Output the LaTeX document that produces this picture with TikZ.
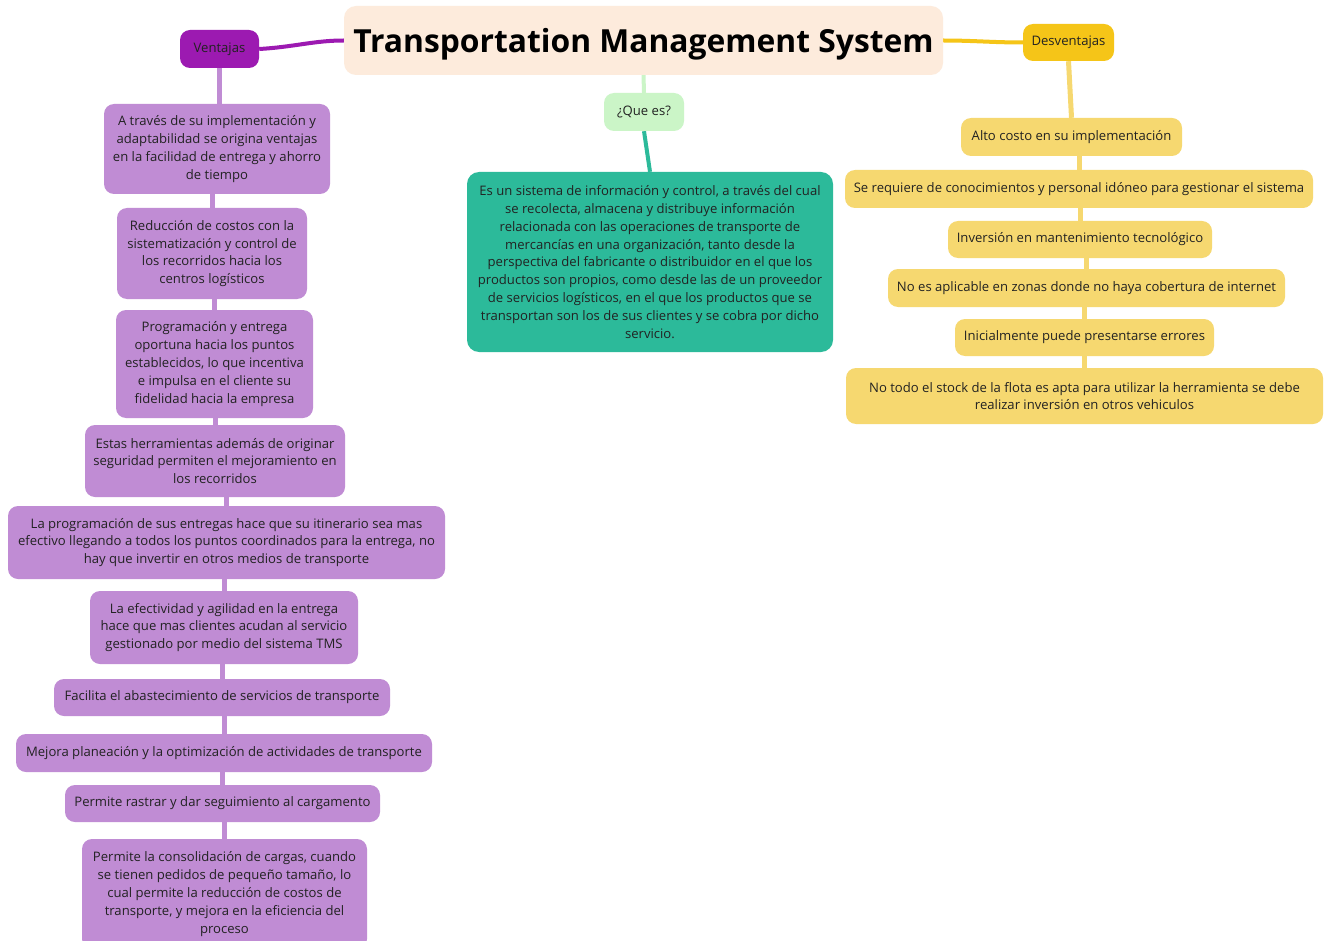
\documentclass[tikz,border=0pt]{standalone}
\usepackage{fontspec}
\setmainfont{Open Sans}
\usetikzlibrary{backgrounds}
\definecolor{titlefill}{HTML}{FDEBDC}
\definecolor{venfill}{HTML}{9C1AB1}
\definecolor{proitem}{HTML}{C08CD4}
\definecolor{desfill}{HTML}{F5C518}
\definecolor{conitem}{HTML}{F6D870}
\definecolor{qfill}{HTML}{CBF5C7}
\definecolor{tealfill}{HTML}{2CBA9A}
\definecolor{ink}{HTML}{222222}
\tikzset{
  box/.style={rounded corners=10pt, inner sep=0pt, align=center, text=ink,
    font=\fontsize{13.1}{17.8}\selectfont},
  pro/.style={box, fill=proitem},
  con/.style={box, fill=conitem},
  sz/.style 2 args={minimum width=#1pt, minimum height=#2pt},
  prolink/.style={draw=proitem, line width=5pt},
  conlink/.style={draw=conitem, line width=5pt},
}
\begin{document}
\begin{tikzpicture}[x=1pt, y=-1pt]
\useasboundingbox (0,0) rectangle (1324,941);

% central topic
\node[box, fill=titlefill, sz={599}{69}, rounded corners=12pt, text=black,
      font=\fontsize{31.8}{38}\selectfont\bfseries] (title) at (643.5,40.5)
      {\raisebox{-4pt}[\height][\depth]{Transportation Management System}};

% main branches
\node[box, fill=venfill, sz={79}{38}] (ven) at (219.5,49) {Ventajas};
\node[box, fill=desfill, sz={91}{37}] (des) at (1068.5,42.5) {Desventajas};
\node[box, fill=qfill, sz={80}{38}] (que) at (644,112) {¿Que es?};

% definition
\node[box, fill=tealfill, sz={366}{180}, rounded corners=12pt] (def) at (650,262)
  {Es un sistema de información y control, a través del cual\\
   se recolecta, almacena y distribuye información\\
   relacionada con las operaciones de transporte de\\
   mercancías en una organización, tanto desde la\\
   perspectiva del fabricante o distribuidor en el que los\\
   productos son propios, como desde las de un proveedor\\
   de servicios logísticos, en el que los productos que se\\
   transportan son los de sus clientes y se cobra por dicho\\
   servicio.};

% advantages
\node[pro, sz={226}{90}] (p1) at (217,149)
  {A través de su implementación y\\adaptabilidad se origina ventajas\\en la facilidad de entrega y ahorro\\de tiempo};
\node[pro, sz={190}{91}] (p2) at (212,253.5)
  {Reducción de costos con la\\sistematización y control de\\los recorridos hacia los\\centros logísticos};
\node[pro, sz={197}{108}] (p3) at (214.5,364)
  {Programación y entrega\\oportuna hacia los puntos\\establecidos, lo que incentiva\\e impulsa en el cliente su\\fidelidad hacia la empresa};
\node[pro, sz={260}{72}] (p4) at (215,461)
  {Estas herramientas además de originar\\seguridad permiten el mejoramiento en\\los recorridos};
\node[pro, sz={437}{73}] (p5) at (226.5,542.5)
  {La programación de sus entregas hace que su itinerario sea mas\\efectivo llegando a todos los puntos coordinados para la entrega, no\\hay que invertir en otros medios de transporte};
\node[pro, sz={268}{73}] (p6) at (224,627.5)
  {La efectividad y agilidad en la entrega\\hace que mas clientes acudan al servicio\\gestionado por medio del sistema TMS};
\node[pro, sz={336}{37}] (p7) at (222,697.5)
  {Facilita el abastecimiento de servicios de transporte};
\node[pro, sz={416}{38}] (p8) at (224,753)
  {Mejora planeación y la optimización de actividades de transporte};
\node[pro, sz={315}{37}] (p9) at (222.5,803.5)
  {Permite rastrar y dar seguimiento al cargamento};
\node[pro, sz={285}{110}] (p10) at (224.5,894)
  {Permite la consolidación de cargas, cuando\\se tienen pedidos de pequeño tamaño, lo\\cual permite la reducción de costos de\\transporte, y mejora en la eficiencia del\\proceso};

% disadvantages
\node[con, sz={221}{38}] (c1) at (1071.5,137) {Alto costo en su implementación};
\node[con, sz={468}{38}] (c2) at (1079,189) {Se requiere de conocimientos y personal idóneo para gestionar el sistema};
\node[con, sz={264}{37}] (c3) at (1080,239.5) {Inversión en mantenimiento tecnológico};
\node[con, sz={397}{38}] (c4) at (1086.5,288) {No es aplicable en zonas donde no haya cobertura de internet};
\node[con, sz={259}{37}] (c5) at (1084.5,337.5) {Inicialmente puede presentarse errores};
\node[con, sz={477}{56}] (c6) at (1084.5,396)
  {No todo el stock de la flota es apta para utilizar la herramienta se debe\\realizar inversión en otros vehiculos};

% connectors behind the boxes
\begin{scope}[on background layer]
  \fill[white] (0,0) rectangle (1324,941);
  \draw[draw=venfill, line width=4pt] (ven.east) .. controls +(35,-2) and +(-30,0) .. (title.west);
  \draw[draw=desfill, line width=4pt] (title.east) .. controls +(30,0) and +(-30,0) .. (des.west);
  \draw[draw=qfill, line width=4pt] (title.south) -- (que.north);
  \draw[draw=tealfill, line width=4pt] (que.south) -- (def.north);
  \draw[prolink] (ven.south) -- (ven.south |- p1.north);
  \foreach \a/\b in {p1/p2,p2/p3,p3/p4,p4/p5,p5/p6,p6/p7,p7/p8,p8/p9,p9/p10}
    \draw[prolink] (\a.south -| \b.north) -- (\b.north);
  \draw[conlink] (des.south) -- (c1.north);
  \foreach \a/\b in {c1/c2,c2/c3,c3/c4,c4/c5,c5/c6}
    \draw[conlink] (\a.south -| \b.north) -- (\b.north);
\end{scope}
\end{tikzpicture}
\end{document}
